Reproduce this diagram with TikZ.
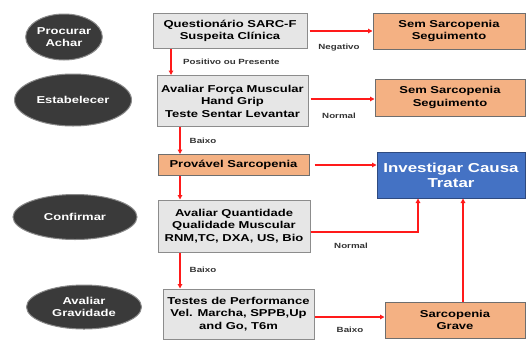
\documentclass[tikz,border=0pt]{standalone}
\usepackage{fontspec}
\setmainfont{Liberation Sans}
\newfontfamily\widesans[FakeStretch=1.3]{Liberation Sans}
\usetikzlibrary{shapes.geometric,arrows.meta,calc}
\definecolor{ellfill}{HTML}{3A3A3A}
\definecolor{ellline}{HTML}{8A8A8A}
\definecolor{grayfill}{HTML}{E6E6E6}
\definecolor{grayline}{HTML}{8C8C8C}
\definecolor{orfill}{HTML}{F4B183}
\definecolor{orline}{HTML}{6E6E6E}
\definecolor{bluefill}{HTML}{4472C4}
\definecolor{blueline}{HTML}{2E4A80}
\definecolor{arrred}{HTML}{FF1A1A}
\tikzset{
  stage/.style={ellipse, fill=ellfill, draw=ellline, line width=1pt, text=white,
    font=\widesans\bfseries\fontsize{10}{12}\selectfont, align=center, inner sep=0pt},
  graybox/.style={rectangle, fill=grayfill, draw=grayline, line width=1pt,
    font=\widesans\bfseries\fontsize{10}{12.5}\selectfont, align=center, inner sep=0pt},
  orbox/.style={rectangle, fill=orfill, draw=orline, line width=1pt,
    font=\widesans\bfseries\fontsize{10}{12.5}\selectfont, align=center, inner sep=0pt},
  bluebox/.style={rectangle, fill=bluefill, draw=blueline, line width=1pt, text=white,
    font=\widesans\bfseries\fontsize{13}{15}\selectfont, align=center, inner sep=0pt},
  lab/.style={font=\widesans\bfseries\fontsize{7.5}{9}\selectfont, text=black!80, inner sep=0pt},
  arr/.style={draw=arrred, line width=1.5pt, -{Triangle[length=4.5pt,width=4.5pt]}}
}
\begin{document}
\begin{tikzpicture}[x=1pt,y=-1pt]
\useasboundingbox (0,0) rectangle (526,340);
% stages
\node[stage, minimum width=75, minimum height=46] (e1) at (64,37) {Procurar\\Achar};
\node[stage, minimum width=117, minimum height=52] (e2) at (73,100) {Estabelecer};
\node[stage, minimum width=124, minimum height=45] (e3) at (75,217) {Confirmar};
\node[stage, minimum width=115, minimum height=44] (e4) at (84,307) {Avaliar\\Gravidade};
% central boxes
\node[graybox, minimum width=154, minimum height=35] (q1) at (230,31) {Questionário SARC-F\\Suspeita Clínica};
\node[graybox, minimum width=151, minimum height=51] (q2) at (232.5,101) {Avaliar Força Muscular\\Hand Grip\\Teste Sentar Levantar};
\node[orbox, minimum width=151, minimum height=21] (prov) at (233.5,165) {Provável Sarcopenia};
\node[graybox, minimum width=152, minimum height=52] (q3) at (234,226) {Avaliar Quantidade\\Qualidade Muscular\\RNM,TC, DXA, US, Bio};
\node[graybox, minimum width=151, minimum height=50] (q4) at (238.5,314) {Testes de Performance\\Vel. Marcha, SPPB,Up\\and Go, T6m};
% right boxes
\node[orbox, minimum width=152, minimum height=36] (s1) at (449,31) {Sem Sarcopenia\\Seguimento};
\node[orbox, minimum width=150, minimum height=37] (s2) at (450,97.5) {Sem Sarcopenia\\Seguimento};
\node[bluebox, minimum width=148, minimum height=46] (inv) at (451,175) {Investigar Causa\\Tratar};
\node[orbox, minimum width=140, minimum height=36] (grave) at (455,320) {Sarcopenia\\Grave};
% helper coordinates
\coordinate (c1) at (171,0);
\coordinate (c2) at (180,0);
\coordinate (cn) at (418,232);
\coordinate (cg) at (463,0);
% arrows
\draw[arr] ($(q1.east)+(2,0)$) -- (q1.east -| s1.west);
\draw[arr] (q1.south -| c1) -- (q2.north -| c1);
\draw[arr] ($(q2.east)+(2,-2)$) -- ($(q2.east -| s2.west)+(0,-2)$);
\draw[arr] (q2.south -| c2) -- (prov.north -| c2);
\draw[arr] ($(prov.east)+(5,0)$) -- (prov.east -| inv.west);
\draw[arr] (prov.south -| c2) -- (q3.north -| c2);
\draw[arr] (q3.east |- cn) -- (cn) -- (inv.south -| cn);
\draw[arr] (q3.south -| c2) -- (q4.north -| c2);
\draw[arr] ($(q4.east)+(0,3)$) -- ($(q4.east -| grave.west)+(0,3)$);
\draw[arr] (grave.north -| cg) -- (inv.south -| cg);
% labels
\node[lab] (l1) at (339,48) {Negativo};
\node[lab, anchor=west] (l2) at (183,62) {Positivo ou Presente};
\node[lab] (l3) at (339,116) {Normal};
\node[lab] (l4) at (203,141) {Baixo};
\node[lab] (l5) at (351,246) {Normal};
\node[lab] (l6) at (203,270) {Baixo};
\node[lab] (l7) at (350,330) {Baixo};
\end{tikzpicture}
\end{document}
